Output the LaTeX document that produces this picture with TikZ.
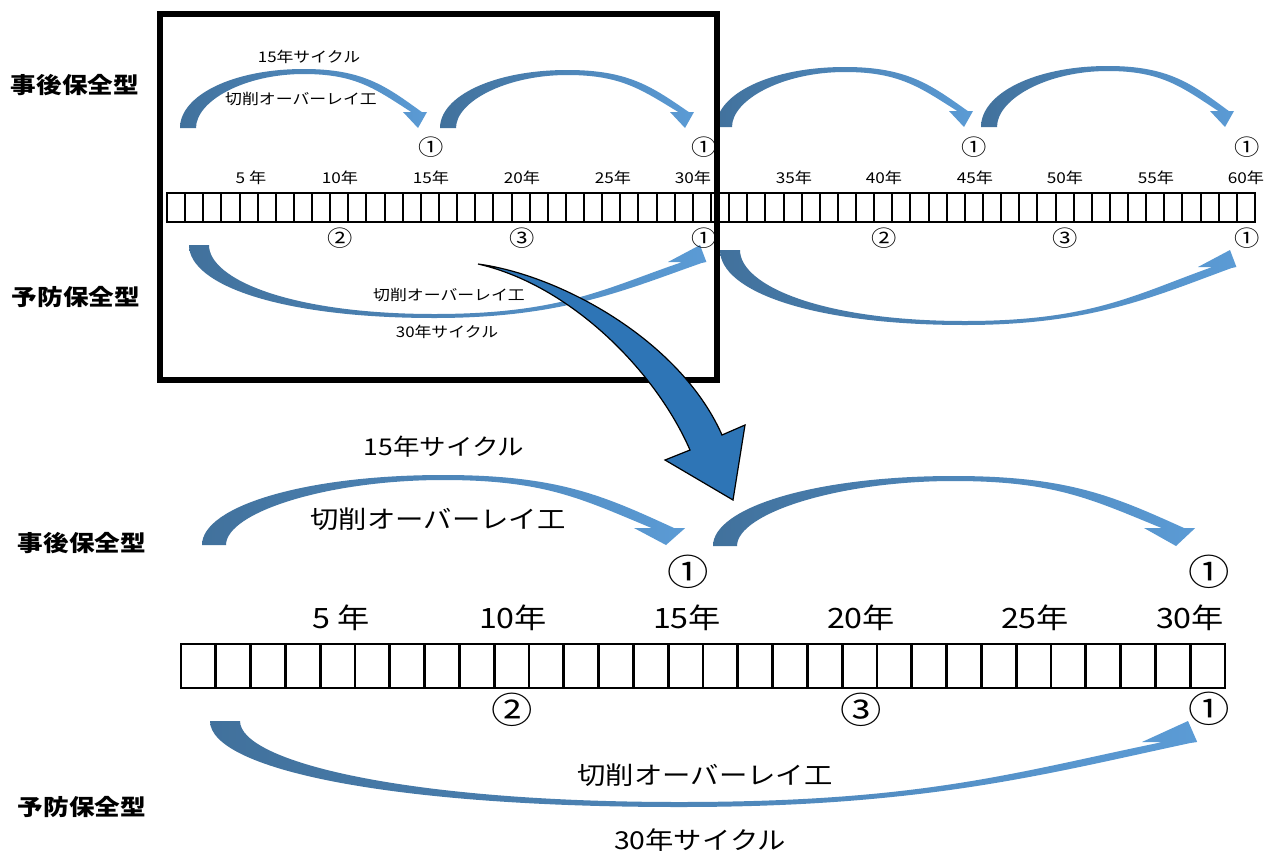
\documentclass[tikz,border=0pt]{standalone}
\usepackage{fontspec}
\newfontfamily\jp{Noto Sans CJK JP}[FakeStretch=1.15]
\definecolor{arrD}{RGB}{65,113,156}
\definecolor{arrL}{RGB}{91,155,213}
\definecolor{bigB}{RGB}{46,117,182}
\newcommand\overarrow[8]{%
\pgfmathsetmacro\aSX{#1}\pgfmathsetmacro\aBY{#2}\pgfmathsetmacro\aW{#3}%
\pgfmathsetmacro\aTX{#4}\pgfmathsetmacro\aYT{#5}\pgfmathsetmacro\aHX{#6}%
\pgfmathsetmacro\aHY{#7}\pgfmathsetmacro\aT{#8}%
\pgfmathsetmacro\aSP{\aTX-\aSX}\pgfmathsetmacro\aXP{\aSX+0.52*\aSP}%
\pgfmathsetmacro\aYI{\aYT+\aT}\pgfmathsetmacro\aNY{\aBY-\aHY}%
\pgfmathsetmacro\aNO{\aTX+0.25*\aHX}\pgfmathsetmacro\aNI{\aTX-0.45*\aHX}%
\shade[left color=arrD,right color=arrL]
 (\aSX,\aBY) .. controls (\aSX,{\aBY-0.55*(\aBY-\aYT)}) and ({\aSX+0.22*\aSP},\aYT) .. (\aXP,\aYT)
 .. controls ({\aXP+0.25*\aSP},\aYT) and ({\aNO-0.15*\aSP},{\aNY-0.6*(\aNY-\aYT)}) .. (\aNO,\aNY)
 -- ({\aTX+0.6*\aHX},\aNY) -- (\aTX,\aBY) -- ({\aTX-\aHX},\aNY) -- (\aNI,\aNY)
 .. controls ({\aNI-0.15*\aSP},{\aNY-0.6*(\aNY-\aYI)}) and ({\aXP+0.22*\aSP},\aYI) .. (\aXP,\aYI)
 .. controls ({\aXP-0.25*\aSP},\aYI) and ({\aSX+\aW},{\aBY-0.5*(\aBY-\aYI)}) .. ({\aSX+\aW},\aBY) -- cycle;
}
\newcommand\underarrow[8]{%
\pgfmathsetmacro\aSX{#1}\pgfmathsetmacro\aBY{#2}\pgfmathsetmacro\aW{#3}%
\pgfmathsetmacro\aTX{#4}\pgfmathsetmacro\aYT{#5}\pgfmathsetmacro\aHX{#6}%
\pgfmathsetmacro\aHY{#7}\pgfmathsetmacro\aT{#8}%
\pgfmathsetmacro\aSP{\aTX-\aSX}\pgfmathsetmacro\aXP{\aSX+0.48*\aSP}%
\pgfmathsetmacro\aYI{\aYT-\aT}\pgfmathsetmacro\aNY{\aBY+\aHY}%
\pgfmathsetmacro\aNO{\aTX+0.05*\aHX}\pgfmathsetmacro\aNI{\aTX-0.55*\aHX}%
\shade[left color=arrD,right color=arrL]
 (\aSX,\aBY) .. controls (\aSX,{\aBY+0.55*(\aYT-\aBY)}) and ({\aXP-0.3*\aSP},\aYT) .. (\aXP,\aYT)
 .. controls ({\aXP+0.25*\aSP},\aYT) and ({\aNO-0.15*\aSP},{\aNY+0.5*(\aYT-\aNY)}) .. (\aNO,{\aNY+1})
 -- ({\aTX+0.2*\aHX},\aNY) -- (\aTX,\aBY) -- ({\aTX-\aHX},\aNY) -- (\aNI,\aNY)
 .. controls ({\aNI-0.15*\aSP},{\aNY+0.5*(\aYI-\aNY)}) and ({\aXP+0.25*\aSP},\aYI) .. (\aXP,\aYI)
 .. controls ({\aXP-0.28*\aSP},\aYI) and ({\aSX+\aW},{\aBY+0.5*(\aYI-\aBY)}) .. ({\aSX+\aW},\aBY) -- cycle;
}
\tikzset{
 lbl/.style={font=\jp\bfseries\fontsize{16.7}{20}\selectfont, inner sep=0},
 ts/.style={font=\jp\fontsize{11}{13}\selectfont, inner sep=0},
 tci/.style={font=\jp\fontsize{16.5}{19}\selectfont, inner sep=0},
 tyr/.style={font=\jp\fontsize{11.2}{13}\selectfont, inner sep=0},
 tb/.style={font=\jp\fontsize{18.5}{22}\selectfont, inner sep=0},
 tc/.style={font=\jp\fontsize{17.3}{21}\selectfont, inner sep=0},
 byr/.style={font=\jp\fontsize{21}{25}\selectfont, inner sep=0},
 bci/.style={font=\jp\fontsize{27}{31}\selectfont, inner sep=0},
}
\begin{document}
\begin{tikzpicture}[x=0.75pt,y=-0.75pt]
\useasboundingbox (0,0) rectangle (1266,853);
\fill[white] (0,0) rectangle (1266,853);
% ---------- top strip ----------
\draw[line width=1.5pt] (167,193) rectangle (1255,222);
\foreach \i in {1,...,59} \draw[line width=1.5pt] ({167+\i*18.133},193) -- ({167+\i*18.133},222);
% ---------- bottom strip ----------
\draw[line width=2.2pt] (181,644) rectangle (1225,688);
\foreach \i in {1,...,29} \draw[line width=2.2pt] ({181+\i*34.8},644) -- ({181+\i*34.8},688);
% ---------- top arrows ----------
\overarrow{180}{128}{16}{418}{69}{15}{16}{5}
\overarrow{440}{128}{16}{685}{70}{15}{16}{5}
\overarrow{716}{127}{16}{964}{67}{15}{16}{5}
\overarrow{981}{127}{16}{1225}{66}{15}{16}{5}
\underarrow{189}{245}{20}{700}{318}{32}{17}{4}
\underarrow{720}{250}{20}{1230}{325}{32}{17}{4}
% ---------- bottom arrows ----------
\overarrow{202}{545}{24}{666}{475}{32}{17}{5}
\overarrow{713}{546}{24}{1176}{476}{32}{18}{5}
\underarrow{210}{721}{30}{1188}{807}{46}{21}{5}
% ---------- top texts ----------
\node[lbl] (jg1) at (75,85) {事後保全型};
\node[lbl] (yb1) at (76,297) {予防保全型};
\node[ts] (c15a) at (309,57) {15年サイクル};
\node[ts] (sk1) at (301,99) {切削オーバーレイ工};
\node[ts] (sk2) at (449,295) {切削オーバーレイ工};
\node[ts] (c30a) at (447,332) {30年サイクル};
\foreach \x/\t [count=\k] in {251/5 年,340/10年,431/15年,522/20年,613/25年,693/30年,794/35年,884/40年,975/45年,1065/50年,1156/55年,1246/60年}
  \node[tyr] (ty\k) at (\x,178) {\t};
\foreach \x [count=\k] in {431,704,974,1247}
  \node[tci] (tu\k) at (\x,147) {①};
\foreach \x/\t [count=\k] in {340/②,522/③,704/①,884/②,1065/③,1247/①}
  \node[tci] (tl\k) at (\x,238) {\t};
% ---------- bottom texts ----------
\node[lbl] (jg2) at (82,543) {事後保全型};
\node[lbl] (yb2) at (82,807) {予防保全型};
\node[tc] (c15b) at (444,447) {15年サイクル};
\node[tb] (sk3) at (438,519) {切削オーバーレイ工};
\node[tb] (sk4) at (705,775) {切削オーバーレイ工};
\node[tb] (c30b) at (700,840) {30年サイクル};
\foreach \x/\t [count=\k] in {341/5 年,513/10年,687/15年,861/20年,1035/25年,1190/30年}
  \node[byr] (by\k) at (\x,618) {\t};
\node[bci] (bu1) at (688,572) {①};
\node[bci] (bu2) at (1209,572) {①};
\node[bci] (bl1) at (512,710) {②};
\node[bci] (bl2) at (861,710) {③};
\node[bci] (bl3) at (1209,709) {①};
% ---------- frame ----------
\draw[line width=4.5pt] (160,14) rectangle (717,380);
% ---------- big arrow ----------
\filldraw[fill=bigB, draw=black, line width=0.9pt, line join=miter]
  (478,264) .. controls (560,275) and (680,340) .. (722,435)
  -- (745,425) -- (733,500) -- (665,460) -- (690,450)
  .. controls (655,370) and (570,285) .. (478,264) -- cycle;
\end{tikzpicture}
\end{document}
